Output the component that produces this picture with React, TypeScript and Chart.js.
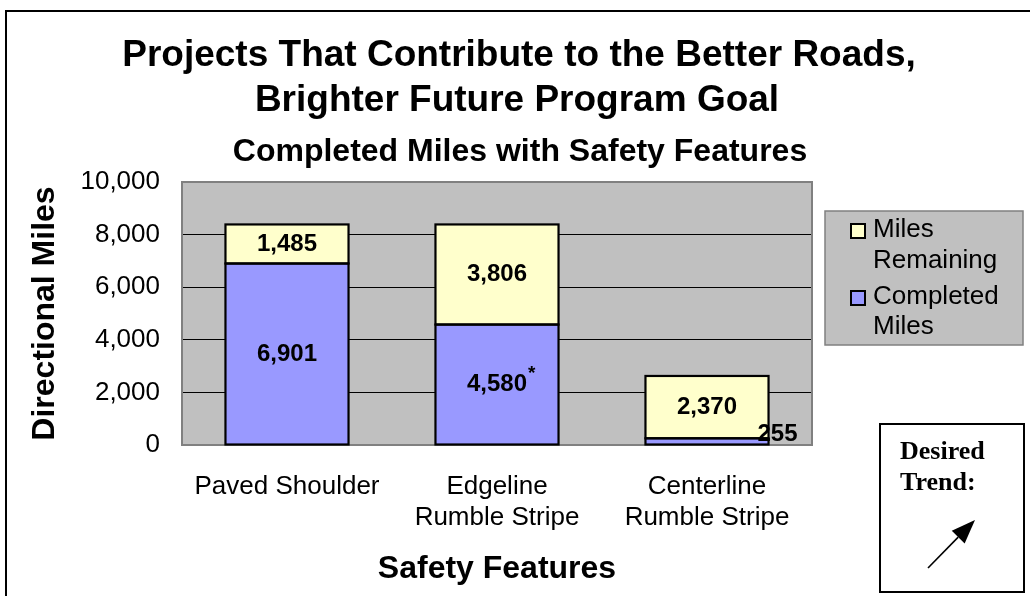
import React, { useEffect, useRef } from "react";
import { Chart, registerables } from "chart.js";

Chart.register(...registerables);

const categories: (string | string[])[] = [
  "Paved Shoulder",
  ["Edgeline", "Rumble Stripe"],
  ["Centerline", "Rumble Stripe"],
];
const completedMiles = [6901, 4580, 255];
const milesRemaining = [1485, 3806, 2370];
const completedNotes = ["", "*", ""];
const remainingNotes = ["", "", ""];
const yTickStep = 2000;
const yMax = 10000;
const titleLines = ["Projects That Contribute to the Better Roads,", "Brighter Future Program Goal"];
const subtitleText = "Completed Miles with Safety Features";
const xTitle = "Safety Features";
const yTitle = "Directional Miles";
const trendLines = ["Desired", "Trend:"];

const SANS = "'Liberation Sans', Arial, sans-serif";
const SERIF = "'Liberation Serif', 'Times New Roman', serif";
const BLUE = "#9999FF";
const YELLOW = "#FFFFCC";

const fmt = (v: number) => v.toLocaleString("en-US");

const plotBgPlugin = {
  id: "plotBg",
  beforeDraw(chart: any) {
    const { ctx, chartArea: a } = chart;
    ctx.save();
    ctx.fillStyle = "#FFFFFF";
    ctx.fillRect(0, 0, chart.width, chart.height);
    ctx.fillStyle = "#C0C0C0";
    ctx.fillRect(a.left, a.top, a.right - a.left, a.bottom - a.top);
    ctx.restore();
  },
  beforeDatasetsDraw(chart: any) {
    const { ctx, chartArea: a } = chart;
    ctx.save();
    ctx.strokeStyle = "#808080";
    ctx.lineWidth = 2;
    ctx.strokeRect(a.left, a.top, a.right - a.left, a.bottom - a.top);
    ctx.restore();
  },
};

const labelPlugin = {
  id: "barLabels",
  afterDatasetsDraw(chart: any) {
    const { ctx } = chart;
    const notes = [completedNotes, remainingNotes];
    ctx.save();
    // bar outlines, stroked centred on the segment edges
    ctx.strokeStyle = "#000";
    ctx.lineWidth = 2.2;
    chart.data.datasets.forEach((_ds: any, di: number) => {
      chart.getDatasetMeta(di).data.forEach((el: any) => {
        const top = Math.min(el.y, el.base);
        const h = Math.abs(el.base - el.y);
        ctx.strokeRect(el.x - el.width / 2, top, el.width, h);
      });
    });

    ctx.fillStyle = "#000";
    ctx.textAlign = "center";
    ctx.textBaseline = "middle";
    chart.data.datasets.forEach((ds: any, di: number) => {
      const meta = chart.getDatasetMeta(di);
      meta.data.forEach((el: any, i: number) => {
        const v = ds.data[i];
        const txt = fmt(v);
        const h = Math.abs(el.base - el.y);
        let x = el.x;
        let y = (el.y + el.base) / 2;
        if (h < 24) {
          x = el.x + el.width / 2 + 9;
          y = el.base - 10;
        }
        ctx.font = `bold 24px ${SANS}`;
        ctx.fillText(txt, x, y);
        const note = notes[di][i];
        if (note) {
          const w = ctx.measureText(txt).width;
          ctx.font = `bold 19px ${SANS}`;
          ctx.textAlign = "left";
          ctx.fillText(note, x + w / 2 + 1, y - 11);
          ctx.textAlign = "center";
        }
      });
    });
    ctx.restore();
  },
};

const decorPlugin = {
  id: "decor",
  afterDraw(chart: any) {
    const { ctx } = chart;
    ctx.save();
    // outer frame
    ctx.strokeStyle = "#000";
    ctx.lineWidth = 2;
    ctx.strokeRect(6, 11, 1200, 800);

    // titles
    ctx.fillStyle = "#000";
    ctx.textAlign = "center";
    ctx.textBaseline = "middle";
    ctx.font = `bold 37px ${SANS}`;
    ctx.fillText(titleLines[0], 519, 56);
    ctx.fillText(titleLines[1], 517, 101);
    ctx.font = `bold 32px ${SANS}`;
    ctx.fillText(subtitleText, 520, 152);

    // legend box
    const lx = 825, ly = 211, lw = 198, lh = 134;
    ctx.fillStyle = "#C0C0C0";
    ctx.fillRect(lx, ly, lw, lh);
    ctx.strokeStyle = "#808080";
    ctx.lineWidth = 1.5;
    ctx.strokeRect(lx, ly, lw, lh);

    const items = [...chart.data.datasets].reverse();
    const lineYs = [[230, 261], [297, 327]];
    ctx.font = `26px ${SANS}`;
    ctx.textAlign = "left";
    ctx.textBaseline = "middle";
    items.forEach((ds: any, k: number) => {
      const label: string = ds.label;
      const sp = label.indexOf(" ");
      const lines = [label.slice(0, sp), label.slice(sp + 1)];
      const sy = lineYs[k][0];
      ctx.fillStyle = ds.backgroundColor;
      ctx.fillRect(851, sy - 6, 14, 14);
      ctx.strokeStyle = "#000";
      ctx.lineWidth = 2;
      ctx.strokeRect(851, sy - 6, 14, 14);
      ctx.fillStyle = "#000";
      ctx.fillText(lines[0], 873, lineYs[k][0]);
      ctx.fillText(lines[1], 873, lineYs[k][1]);
    });

    // desired trend box
    ctx.fillStyle = "#FFFFFF";
    ctx.fillRect(880, 424, 144, 168);
    ctx.strokeStyle = "#000";
    ctx.lineWidth = 2;
    ctx.strokeRect(880, 424, 144, 168);
    ctx.fillStyle = "#000";
    ctx.font = `bold 26px ${SERIF}`;
    ctx.fillText(trendLines[0], 900, 452);
    ctx.fillText(trendLines[1], 900, 483);

    // arrow
    const x1 = 928, y1 = 568, x2 = 975, y2 = 520;
    const ang = Math.atan2(y2 - y1, x2 - x1);
    const hl = 24, hw = 9;
    const bx = x2 - hl * Math.cos(ang), by = y2 - hl * Math.sin(ang);
    ctx.strokeStyle = "#000";
    ctx.lineWidth = 1.6;
    ctx.beginPath();
    ctx.moveTo(x1, y1);
    ctx.lineTo(bx, by);
    ctx.stroke();
    ctx.beginPath();
    ctx.moveTo(x2, y2);
    ctx.lineTo(bx + hw * Math.sin(ang), by - hw * Math.cos(ang));
    ctx.lineTo(bx - hw * Math.sin(ang), by + hw * Math.cos(ang));
    ctx.closePath();
    ctx.fill();
    ctx.restore();
  },
};

export default function App() {
  const ref = useRef<HTMLCanvasElement | null>(null);

  useEffect(() => {
    if (!ref.current) return;
    const chart = new Chart(ref.current, {
      type: "bar",
      data: {
        labels: categories as any,
        datasets: [
          {
            label: "Completed Miles",
            data: completedMiles,
            backgroundColor: BLUE,
            borderWidth: 0,
            barPercentage: 0.586,
            categoryPercentage: 1,
          },
          {
            label: "Miles Remaining",
            data: milesRemaining,
            backgroundColor: YELLOW,
            borderWidth: 0,
            barPercentage: 0.586,
            categoryPercentage: 1,
          },
        ],
      },
      options: {
        responsive: false,
        animation: false,
        devicePixelRatio: 1,
        layout: { padding: { left: 0, right: 218, top: 182, bottom: 0 } },
        plugins: {
          legend: { display: false },
          tooltip: { enabled: false },
          title: { display: false },
        },
        scales: {
          x: {
            stacked: true,
            grid: { display: false },
            border: { display: false },
            ticks: { color: "#000", font: { family: SANS, size: 26, lineHeight: 1.2 }, padding: 18, maxRotation: 0 },
            title: {
              display: true,
              text: xTitle,
              color: "#000",
              font: { family: SANS, size: 32, weight: "bold", lineHeight: 1.2 },
              padding: { top: 0, bottom: 8 },
            },
            afterFit: (s: any) => {
              s.height = 151;
            },
          },
          y: {
            stacked: true,
            min: 0,
            max: yMax,
            border: { display: false },
            grid: {
              drawTicks: false,
              lineWidth: 1,
              color: (c: any) =>
                c.tick && (c.tick.value === 0 || c.tick.value === yMax) ? "rgba(0,0,0,0)" : "#000",
            },
            ticks: {
              stepSize: yTickStep,
              color: "#000",
              font: { family: SANS, size: 26 },
              padding: 22,
              callback: (v: any) => fmt(Number(v)),
            },
            title: {
              display: true,
              text: yTitle,
              color: "#000",
              font: { family: SANS, size: 32, weight: "bold", lineHeight: 1.2 },
              padding: { top: 26, bottom: 0 },
            },
            afterFit: (s: any) => {
              s.width = 182;
            },
          },
        },
      },
      plugins: [plotBgPlugin, labelPlugin, decorPlugin],
    });
    return () => chart.destroy();
  }, []);

  return (
    <div style={{ position: "absolute", left: 0, top: 0, width: 1030, height: 596 }}>
      <canvas ref={ref} width={1030} height={596} style={{ display: "block" }} />
    </div>
  );
}
